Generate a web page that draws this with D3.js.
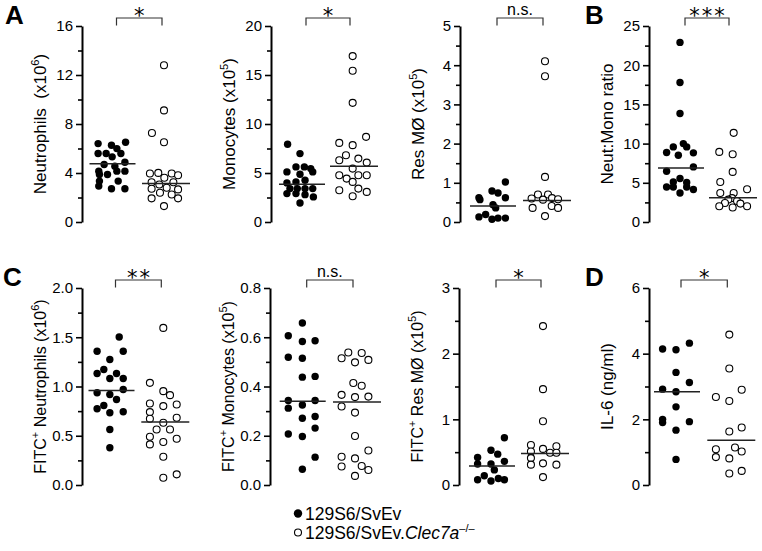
<!DOCTYPE html>
<html><head><meta charset="utf-8">
<script src="https://cdn.jsdelivr.net/npm/d3@7"></script>
<style>body{margin:0;background:#fff}svg{font-family:"Liberation Sans",Arial,Helvetica,sans-serif}</style>
</head><body>
<svg id="c" width="762" height="551"></svg>
<script>
// ---------- data: [value, horizontal jitter slot] ----------
const groups = ["wt", "ko"];
const neutrophilsWT = [[6.40,-2],[6.26,0],[6.51,2.1],[5.99,0.8],[5.59,-2],[5.59,-0.8],[5.59,1.4],[5.32,0.1],[4.88,2],[4.69,-1.1],[4.56,0.5],[4.15,-1.9],[4.15,0.8],[4.15,2],[3.88,-1.8],[3.88,-0.6],[3.34,-1.8],[3.34,1],[2.93,-1.9],[2.71,0],[2.71,2]];
const neutrophilsKO = [[12.8,0],[9.11,0],[7.27,-1.8],[6.51,0],[3.96,-2.1],[4.01,-0.85],[3.96,1.15],[3.82,2.1],[3.61,0.05],[3.25,-1.85],[3.25,1.4],[3.06,-0.7],[2.79,0.4],[2.71,-1.85],[2.66,2.1],[2.39,-0.6],[2.25,1.15],[1.93,-1.85],[1.93,2.1],[1.30,0]];
const monocytesWT = [[7.94,-2],[6.98,-0.15],[5.62,-0.75],[5.62,0.5],[5.45,1.45],[5.11,-2.1],[5.11,1.75],[4.87,-0.15],[3.99,-2.1],[4.09,-0.75],[4.26,0.6],[3.41,-1.65],[3.41,-0.55],[3.41,0.6],[3.41,1.75],[2.90,-2.1],[2.90,-0.75],[2.79,0.6],[2.56,1.85],[1.94,-0.15]];
const monocytesKO = [[16.93,0.1],[15.43,0.1],[12.16,0.1],[8.69,2.1],[8.07,-1.9],[7.84,0.1],[6.81,-0.9],[6.30,-1.9],[6.47,0.95],[6.06,2.2],[5.45,0.1],[4.77,-1.9],[4.43,-0.8],[4.77,0.95],[4.77,2.2],[4.09,0.1],[3.24,-1.9],[3.41,0.95],[3.07,2.2],[2.62,0.1]];
const resMacWT = [[1.02,2],[0.79,0],[0.74,0.9],[0.62,2],[0.62,-1.95],[0.57,-1.8],[0.44,0.15],[0.36,0.55],[0.13,-1.95],[0.19,-0.95],[0.07,0],[0.10,0.9],[0.10,2]];
const resMacKO = [[4.10,0],[3.72,0],[1.15,0],[0.70,-1.05],[0.70,0.45],[0.60,-2],[0.57,-0.3],[0.61,1.05],[0.58,1.95],[0.36,-1.85],[0.41,1.0],[0.36,1.95],[0.15,0]];
const ratioWT = [[22.91,0],[17.80,0],[13.84,0],[10.0,0.5],[9.58,-1],[9.58,1],[8.86,-2],[8.52,-0.25],[8.82,2],[7.03,2],[6.48,-2],[5.54,0],[5.11,-1],[5.03,1],[4.47,-2],[4.47,-1],[4.47,1],[4.14,2],[3.70,0]];
const ratioKO = [[11.37,0.4],[8.94,-1.75],[8.65,0.25],[6.39,0.25],[5.11,-1.6],[3.70,-1.6],[3.70,0.4],[4.17,2.4],[3.05,0.15],[2.86,-0.4],[2.68,0.9],[2.43,-0.9],[2.35,1.4],[2.0,-1.75],[1.84,0.25],[2.0,2.4]];
const fitcNeutWT = [[1.503,1.3],[1.358,-2],[1.358,1.9],[1.274,-0.1],[1.172,-1],[1.132,-2],[1.132,0.9],[1.081,-0.1],[1.081,1.9],[0.936,-2],[0.919,-0.1],[0.970,1.9],[0.868,0.9],[0.807,-1],[0.774,-2],[0.733,-0.1],[0.743,1.9],[0.564,-0.1],[0.378,-0.1]];
const fitcNeutKO = [[1.595,0],[1.037,-2],[0.953,0],[0.912,1],[0.828,-2],[0.801,0],[0.818,2],[0.740,-2],[0.672,-2],[0.682,2],[0.632,0],[0.564,-1],[0.564,1],[0.490,-2],[0.436,0],[0.470,2],[0.412,-2],[0.287,0],[0.074,0],[0.108,2]];
const fitcMonoWT = [[0.658,0.1],[0.606,-2],[0.583,0.1],[0.586,2],[0.519,-2],[0.515,0.1],[0.438,0.1],[0.441,2],[0.343,-2],[0.325,0.1],[0.343,2],[0.312,-2],[0.271,0.1],[0.278,2],[0.231,2],[0.207,-2],[0.197,0.1],[0.113,2],[0.064,0.1]];
const fitcMonoKO = [[0.515,-2],[0.538,-1],[0.498,0],[0.536,1],[0.508,2],[0.414,-0.25],[0.403,1],[0.366,-2],[0.319,-2],[0.357,0],[0.359,2],[0.294,0],[0.199,0],[0.115,-2],[0.108,0],[0.140,2],[0.075,-2],[0.077,1],[0.061,2],[0.037,0]];
const fitcResWT = [[0.72,2],[0.53,0],[0.47,1],[0.42,-2],[0.36,2],[0.32,-2],[0.32,0],[0.23,0.5],[0.14,-1],[0.08,-2],[0.06,0],[0.10,1.1],[0.08,2]];
const fitcResKO = [[2.42,0],[1.46,0],[0.97,0],[0.61,-1.8],[0.59,2],[0.55,0],[0.51,-1.8],[0.49,1.05],[0.49,2],[0.41,-1.8],[0.31,-1.8],[0.33,0],[0.31,2],[0.12,0]];
const il6WT = [[4.14,-2],[4.12,0],[4.32,2],[3.43,0],[3.12,2],[2.92,-2],[2.84,0],[2.38,0],[2.00,-2],[1.90,-2],[1.93,2],[1.67,0],[0.78,0]];
const il6KO = [[4.58,0],[3.55,0],[2.90,1.85],[2.68,-2],[2.56,0],[1.63,0],[1.75,1.85],[1.09,-2],[1.14,0.85],[1.02,1.85],[0.85,-2],[0.81,0],[0.35,0],[0.43,1.85]];

// medians [wt, ko]
const neutrophilsMedian = [4.75, 3.15];
const monocytesMedian = [3.85, 5.7];
const resMacMedian = [0.41, 0.55];
const ratioMedian = [6.9, 3.1];
const fitcNeutMedian = [0.96, 0.64];
const fitcMonoMedian = [0.34, 0.337];
const fitcResMedian = [0.29, 0.48];
const il6Median = [2.84, 1.36];

// ticks
const neutrophilsTicks = [0,4,8,12,16];
const monocytesTicks = [0,5,10,15,20];
const resMacTicks = [0,1,2,3,4,5];
const ratioTicks = [0,5,10,15,20,25];
const fitcNeutTicks = [0,0.5,1.0,1.5,2.0];
const fitcMonoTicks = [0,0.2,0.4,0.6,0.8];
const fitcResTicks = [0,1,2,3];
const il6Ticks = [0,2,4,6];

const significance = ["*", "*", "n.s.", "***", "**", "n.s.", "*", "*"];
const panelLetters = ["A", null, null, "B", "C", null, null, "D"];
const legendLabels = ["129S6/SvEv", "129S6/SvEv."];

// y labels as segments: [text, isSup]
const yLabels = [
  [["Neutrophils\u00a0\u00a0(x10",0],["6",1],[")",0]],
  [["Monocytes (x10",0],["5",1],[")",0]],
  [["Res MØ (x10",0],["5",1],[")",0]],
  [["Neut:Mono ratio",0]],
  [["FITC",0],["+",1],[" Neutrophils (x10",0],["6",1],[")",0]],
  [["FITC",0],["+",1],[" Monocytes (x10",0],["5",1],[")",0]],
  [["FITC",0],["+",1],[" Res MØ (x10",0],["5",1],[")",0]],
  [["IL-6 (ng/ml)",0]]
];

const panels = [
  {wt:neutrophilsWT, ko:neutrophilsKO, med:neutrophilsMedian, ticks:neutrophilsTicks, fmt:"d"},
  {wt:monocytesWT, ko:monocytesKO, med:monocytesMedian, ticks:monocytesTicks, fmt:"d"},
  {wt:resMacWT, ko:resMacKO, med:resMacMedian, ticks:resMacTicks, fmt:"d"},
  {wt:ratioWT, ko:ratioKO, med:ratioMedian, ticks:ratioTicks, fmt:"d"},
  {wt:fitcNeutWT, ko:fitcNeutKO, med:fitcNeutMedian, ticks:fitcNeutTicks, fmt:".1f"},
  {wt:fitcMonoWT, ko:fitcMonoKO, med:fitcMonoMedian, ticks:fitcMonoTicks, fmt:".1f"},
  {wt:fitcResWT, ko:fitcResKO, med:fitcResMedian, ticks:fitcResTicks, fmt:"d"},
  {wt:il6WT, ko:il6KO, med:il6Median, ticks:il6Ticks, fmt:"d"}
];

// ---------- layout ----------
const layout = [
  {ax:82, c:[111.5,164], row:0, lx:5, fs:17},
  {ax:271, c:[301,352], row:0, fs:17},
  {ax:460, c:[492,545], row:0, fs:17},
  {ax:649, c:[680,731], row:0, lx:585, fs:17},
  {ax:82, c:[110.5,163.3], row:1, lx:3, fs:16},
  {ax:270, c:[301.7,355], row:1, fs:16},
  {ax:459, c:[491,543], row:1, fs:16},
  {ax:649, c:[676,729.3], row:1, lx:585, fs:17}
];
const rows = [{top:26, bottom:222}, {top:288, bottom:485}];
const slot = 6.7;

const svg = d3.select("#c");

panels.forEach((p, i) => {
  const L = layout[i], R = rows[L.row];
  const max = p.ticks[p.ticks.length-1];
  const y = d3.scaleLinear().domain([0, max]).range([R.bottom, R.top]);
  const x = d3.scalePoint().domain(groups).range(L.c);
  const g = svg.append("g");

  // minor ticks at midpoints
  const step = p.ticks[1] - p.ticks[0];
  const minor = p.ticks.slice(0, -1).map(t => t + step/2);
  g.append("g").attr("transform", `translate(${L.ax},0)`)
    .call(d3.axisLeft(y).tickValues(minor).tickSize(4).tickSizeOuter(0).tickFormat(""))
    .call(a => { a.select(".domain").remove(); a.selectAll("line").attr("stroke","#000").attr("stroke-width",1.6); });

  const ag = g.append("g").attr("transform", `translate(${L.ax},0)`)
    .call(d3.axisLeft(y).tickValues(p.ticks).tickSize(6).tickSizeOuter(0).tickPadding(3).tickFormat(d3.format(p.fmt)));
  ag.select(".domain").attr("stroke","#000").attr("stroke-width",2);
  ag.selectAll("line").attr("stroke","#000").attr("stroke-width",1.6);
  ag.selectAll("text").attr("font-size",15).attr("fill","#000")
    .attr("font-family",'"Liberation Sans",Arial,sans-serif');
  ag.attr("font-family", null).attr("font-size", null);

  // y label
  const yl = g.append("text")
    .attr("transform", `translate(${L.ax-42},${(R.top+R.bottom)/2}) rotate(-90)`)
    .attr("text-anchor","middle").attr("font-size",L.fs).attr("fill","#000").attr("dy","0.35em");
  let up = false;
  yLabels[i].forEach(([t, sup]) => {
    const ts = yl.append("tspan").text(t);
    if (sup && !up) { ts.attr("font-size",11).attr("dy",-7); up = true; }
    else if (!sup && up) { ts.attr("dy",7); up = false; }
  });

  // dots: filled then open
  g.append("g").selectAll("circle").data(p.wt).join("circle")
    .attr("cx", d => x("wt") + d[1]*slot).attr("cy", d => y(d[0]))
    .attr("r", 3.7).attr("fill", "#000");
  g.append("g").selectAll("circle").data(p.ko).join("circle")
    .attr("cx", d => x("ko") + d[1]*slot).attr("cy", d => y(d[0]))
    .attr("r", 3.5).attr("fill", "#fff").attr("stroke","#000").attr("stroke-width",1.1);

  // medians
  g.append("g").selectAll("line").data(groups).join("line")
    .attr("x1", gname => x(gname) - 22).attr("x2", gname => x(gname) + (gname==="wt"?24:26))
    .attr("y1", (gname, k) => y(p.med[k])).attr("y2", (gname, k) => y(p.med[k]))
    .attr("stroke", "#222").attr("stroke-width", 1.5);

  // bracket
  const bx1 = x("wt") + 5, bx2 = x("ko") - 2, bt = R.top - 8, bb = R.top - 0.5;
  g.append("path").attr("d", `M${bx1},${bb}V${bt}H${bx2}V${bb}`)
    .attr("fill","none").attr("stroke","#333").attr("stroke-width",1.2);
  const s = significance[i];
  if (s === "n.s.") {
    g.append("text").attr("x",(bx1+bx2)/2).attr("y", bt-3).attr("text-anchor","middle")
      .attr("font-size",16).attr("fill","#000").text(s);
  } else {
    g.append("text").attr("x",(bx1+bx2)/2 + 1).attr("y", bt+5).attr("text-anchor","middle")
      .attr("font-family",'"DejaVu Sans",sans-serif')
      .attr("font-size",21).attr("letter-spacing",2).attr("fill","#000").text(s);
  }

  if (panelLetters[i]) {
    svg.append("text").attr("x", L.lx).attr("y", R.top - 2).attr("font-size",26)
      .attr("font-weight","bold").attr("fill","#000").text(panelLetters[i]);
  }
});

// legend
const lg = svg.append("g");
lg.append("circle").attr("cx",298).attr("cy",513.5).attr("r",4.2).attr("fill","#000");
lg.append("circle").attr("cx",298).attr("cy",532.5).attr("r",3.5).attr("fill","#fff").attr("stroke","#000").attr("stroke-width",1.1);
lg.append("text").attr("x",305).attr("y",519.5).attr("font-size",17.5).attr("fill","#000").text(legendLabels[0]);
const t2 = lg.append("text").attr("x",305).attr("y",539).attr("font-size",17.5).attr("fill","#000");
t2.append("tspan").text(legendLabels[1]);
t2.append("tspan").attr("font-style","italic").text("Clec7a");
t2.append("tspan").attr("font-size",11).attr("dy",-7).text("\u2013/\u2013");
</script>
</body></html>
